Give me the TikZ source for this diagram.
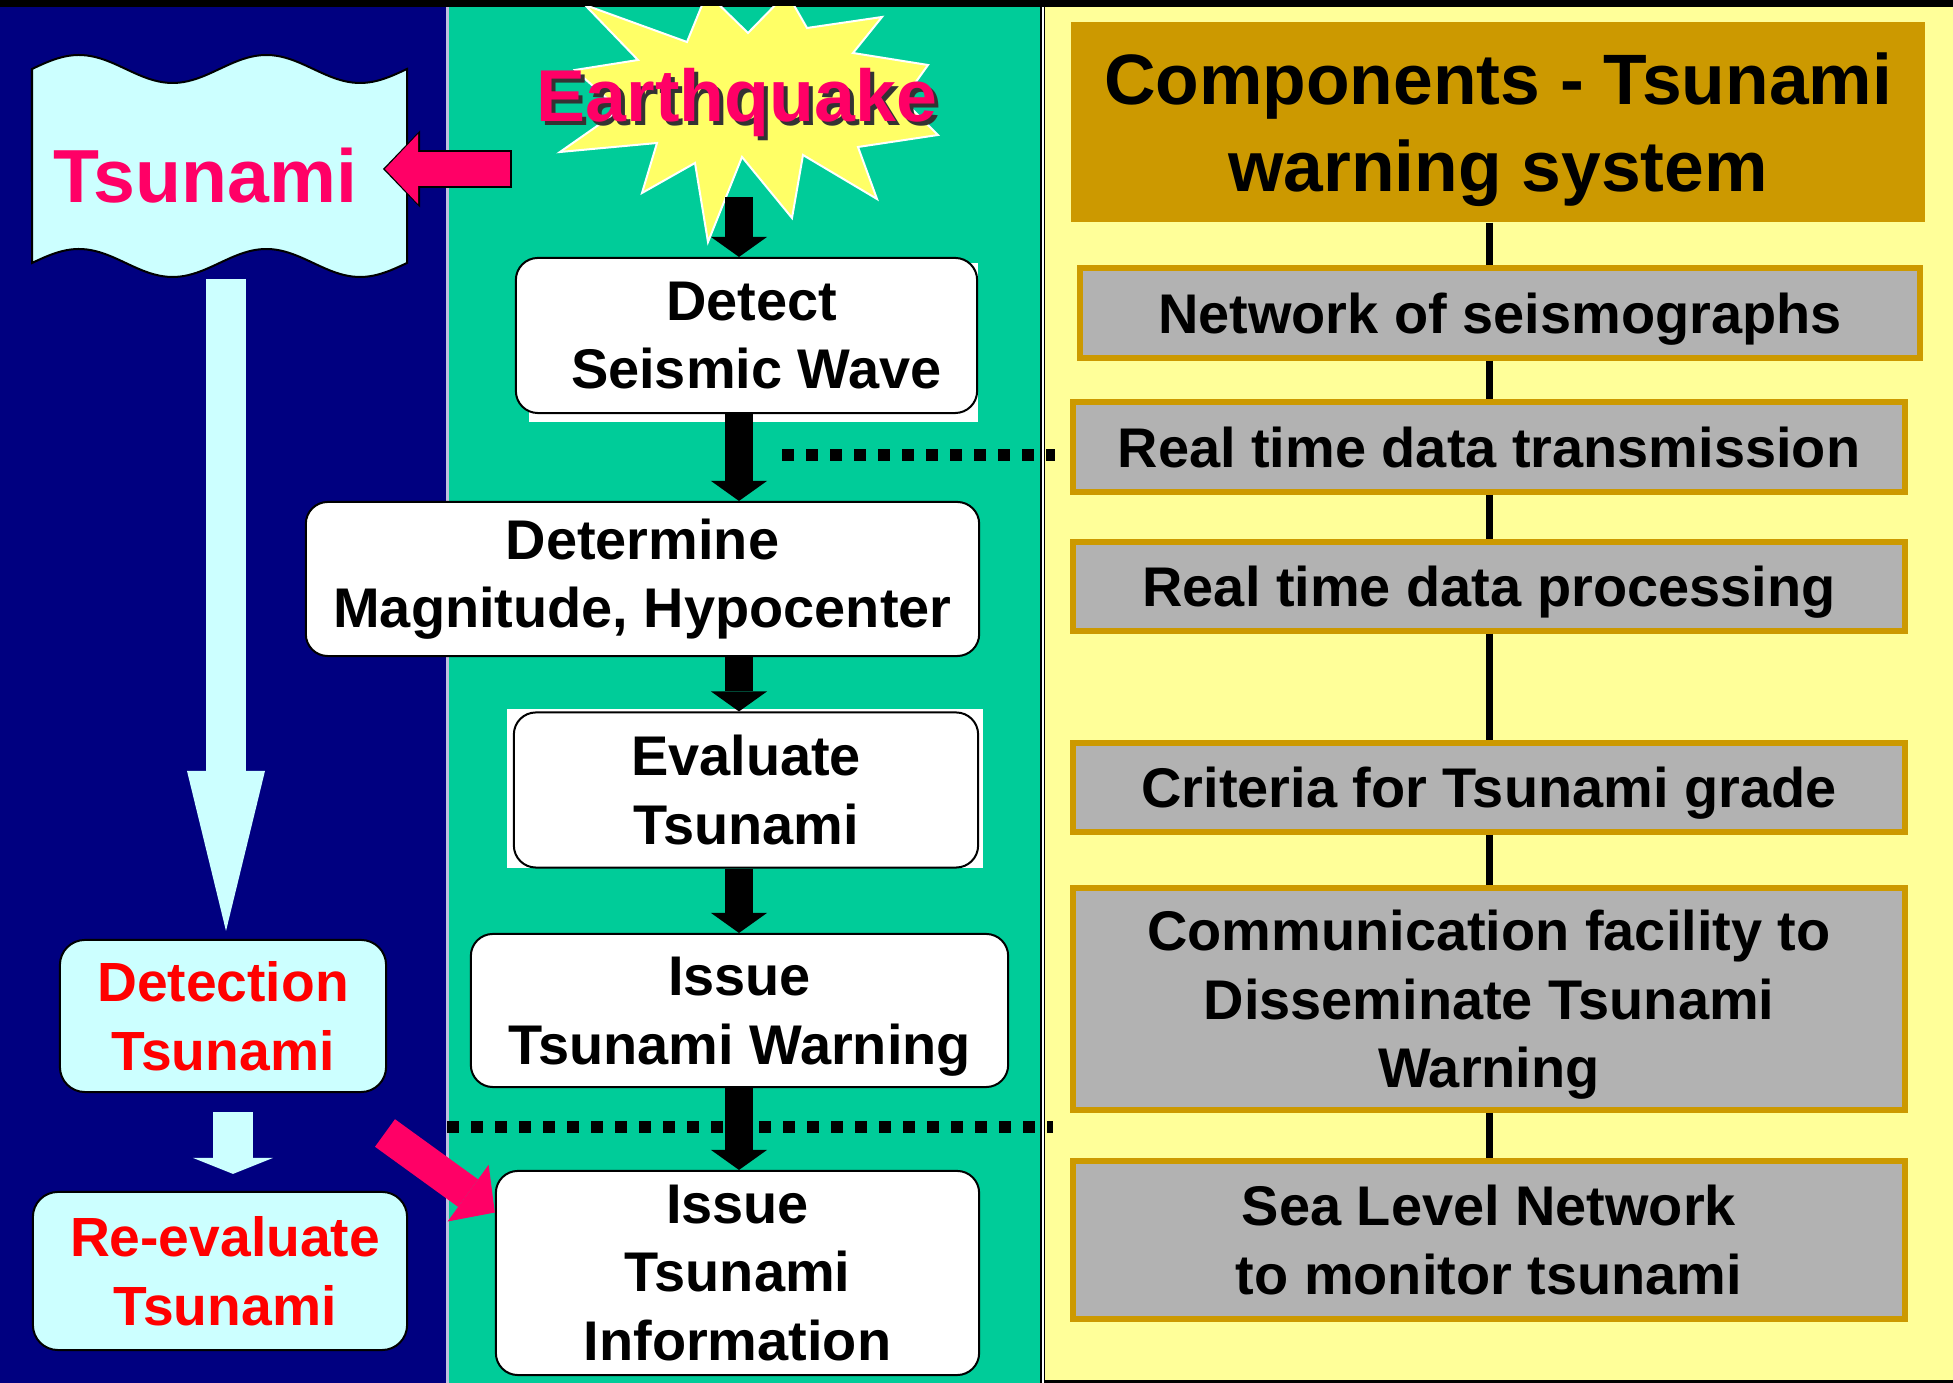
\documentclass[tikz,border=0pt]{standalone}
\usepackage{fontspec}
\setmainfont{Liberation Sans}
\usepackage{tikz}
\usetikzlibrary{arrows,arrows.meta,calc,positioning,shapes}

\definecolor{navypanel}{HTML}{000080}
\definecolor{greenpanel}{HTML}{00CC99}
\definecolor{yellowpanel}{HTML}{FFFF99}
\definecolor{titlegold}{HTML}{CC9900}
\definecolor{compgray}{HTML}{B2B2B2}
\definecolor{lightcyan}{HTML}{CCFFFF}
\definecolor{hotpink}{HTML}{FF0066}
\definecolor{burstyellow}{HTML}{FFFF66}

\begin{document}
\begin{tikzpicture}[x=0.01cm, y=-0.01cm, >=latex']
	\tikzstyle{flowbox} = [draw, rectangle, rounded corners=0.22cm, fill=white, line width=0.02cm, inner sep=0.05cm, align=center, font=\fontsize{15.9}{19.5}\selectfont\bfseries]
	\tikzstyle{cyanbox} = [flowbox, fill=lightcyan, text=red, rounded corners=0.25cm, font=\fontsize{15.7}{19.5}\selectfont\bfseries]
	\tikzstyle{compbox} = [draw=titlegold, fill=compgray, rectangle, line width=0.06cm, minimum width=8.32cm, minimum height=0.89cm, inner sep=0.05cm, text depth=0pt, align=center, font=\fontsize{15.9}{19.5}\selectfont\bfseries]
	\tikzstyle{blockarrow} = [line width=0.28cm, -{Triangle[width=0.56cm, length=0.2cm, line width=0pt]}]
	\tikzstyle{cyanarrow} = [color=lightcyan, line width=0.40cm]
	\tikzstyle{pinkarrow} = [color=hotpink, line width=0.34cm, -{Triangle[width=0.70cm, length=0.33cm, line width=0pt]}]
	\tikzstyle{dotline} = [line width=0.12cm, dash pattern=on 0.12cm off 0.12cm]
	\tikzstyle{spine} = [line width=0.07cm]
	
	\useasboundingbox (0,0) rectangle (1953,1383);
	\fill[black] (0,0) rectangle (1953,1383);
	\fill[navypanel] (0,7) rectangle (446,1383);
	\fill[white!75!navypanel] (446,7) rectangle (449,1383);
	\fill[greenpanel] (449,7) rectangle (1040,1383);
	\fill[white] (1041.5,7) rectangle (1043.5,1383);
	\fill[yellowpanel] (1045,7) rectangle (1953,1380);
	
	\begin{scope}
	\clip (449,7) rectangle (1040,1383);
	\filldraw[fill=burstyellow, draw=white, line width=0.02cm] (585,5) -- (687,42) -- (707,-7) -- (748,33) -- (787,-7) -- (807,28) -- (882,17) -- (853,53) -- (928,65) -- (903,100) -- (938,135) -- (858,147) -- (877,199) -- (803,155) -- (792,218) -- (742,157) -- (708,242) -- (695,163) -- (642,193) -- (657,143) -- (560,152) -- (620,110) -- (575,70) -- (638,60) -- cycle;
	\end{scope}
	
	\fill[white] (529,263) rectangle (978,422);
	\fill[white] (507,709) rectangle (983,868);
	\filldraw[fill=lightcyan, draw=black, line width=0.02cm] plot[domain=32:407, samples=90, smooth] (\x, {69-14*sin(1.92*(\x-32))}) -- plot[domain=407:32, samples=90, smooth] (\x, {263-14*sin(1.92*(\x-32))}) -- cycle;
	
	\node [anchor=base, text=hotpink, font=\fontsize{21.4}{24}\selectfont\bfseries] (tsu) at (205,203) {Tsunami};
	\node [anchor=base, text=black!80, font=\fontsize{20.9}{24}\selectfont\bfseries] (quakeshade) at (741,126) {Earthquake};
	\node [anchor=base, text=hotpink, font=\fontsize{20.9}{24}\selectfont\bfseries] (quake) at (737,122) {Earthquake};
	
	\node [cyanbox, minimum width=3.26cm, minimum height=1.52cm] (detection) at (223,1016) {Detection\\Tsunami};
	\node [cyanbox, minimum width=3.74cm, minimum height=1.58cm] (reeval) at (220,1271) {\hspace*{0.1cm}Re-evaluate\\\hspace*{0.1cm}Tsunami};
	
	\node [flowbox, minimum width=4.61cm, minimum height=1.55cm] (detect) at (746.5,335.5) {\hspace*{0.1cm}Detect\\\hspace*{0.2cm}Seismic Wave};
	\node [flowbox, minimum width=6.73cm, minimum height=1.54cm] (determine) at (642.5,579) {Determine\\Magnitude, Hypocenter};
	\node [flowbox, minimum width=4.64cm, minimum height=1.55cm] (evaluate) at (746,790) {Evaluate\\Tsunami};
	\node [flowbox, minimum width=5.37cm, minimum height=1.53cm, text depth=0pt] (warning) at (739.5,1010.5) {Issue\\Tsunami Warning};
	\node [flowbox, minimum width=4.83cm, minimum height=2.04cm] (info) at (737.5,1273) {Issue\\Tsunami\\Information};
	
	\node [fill=titlegold, minimum width=8.53cm, minimum height=2.0cm, text depth=0pt, align=center, font=\fontsize{20.3}{24.8}\selectfont\bfseries] (title) at (1498,122) {Components - Tsunami\\warning system};
	\node [compbox, minimum width=8.39cm] (seismo) at (1500,313) {Network of seismographs};
	\node [compbox] (transmit) at (1489,447) {Real time data transmission};
	\node [compbox, below = 0.44cm of transmit] (process) {Real time data processing};
	\node [compbox, below = 1.06cm of process] (criteria) {Criteria for Tsunami grade};
	\node [compbox, minimum height=2.22cm, below = 0.50cm of criteria] (dissem) {Communication facility to\\Disseminate Tsunami\\Warning};
	\node [compbox, minimum height=1.58cm, below = 0.45cm of dissem] (sealevel) {Sea Level Network\\to monitor tsunami};
	
	\coordinate (axis) at (739,197);
	\coordinate (bannerfoot) at (226,279);
	\coordinate (smallaxis) at (233,1100);
	\coordinate (pinktail) at (510,169);
	\coordinate (pinktip) at (385,169);
	\coordinate (pinkfoot) at (385,1133);
	\coordinate (dotA) at (782,455);
	\coordinate (dotB) at (447,1127);
	
	\draw [dotline, shorten >=0.15cm] (dotA) -- (dotA -| transmit.west);
	\draw [dotline, shorten >=0.17cm] (dotB) -- (dotB -| transmit.west);
	
	\draw [blockarrow] (axis) -- (detect.north -| axis);
	\draw [blockarrow] (detect.south -| axis) -- (determine.north -| axis);
	\draw [blockarrow] (determine.south -| axis) -- (evaluate.north -| axis);
	\draw [blockarrow] (evaluate.south -| axis) -- (warning.north -| axis);
	\draw [blockarrow] (warning.south -| axis) -- (info.north -| axis);
	
	\draw [cyanarrow, -{Triangle[width=0.78cm, length=1.6cm, line width=0pt]}, shorten >=0.08cm] (bannerfoot) -- (detection.north -| bannerfoot);
	\draw [cyanarrow, -{Triangle[width=0.80cm, length=0.16cm, line width=0pt]}, shorten <=0.19cm, shorten >=0.17cm] (detection.south -| smallaxis) -- (reeval.north -| smallaxis);
	
	\draw [pinkarrow, color=black, line width=0.38cm, -{Triangle[width=0.77cm, length=0.37cm, line width=0pt]}, shorten <=-0.02cm, shorten >=-0.02cm] (pinktail) -- (pinktip);
	\draw [pinkarrow] (pinktail) -- (pinktip);
	\draw [pinkarrow] (pinkfoot) -- (info.166);
	
	\draw [spine] (title.south -| transmit) -- (seismo.north -| transmit);
	\draw [spine] (seismo.south -| transmit) -- (transmit.north);
	\draw [spine] (transmit.south) -- (process.north);
	\draw [spine] (process.south) -- (criteria.north);
	\draw [spine] (criteria.south) -- (dissem.north);
	\draw [spine] (dissem.south) -- (sealevel.north);
	
	\end{tikzpicture}
\end{document}
